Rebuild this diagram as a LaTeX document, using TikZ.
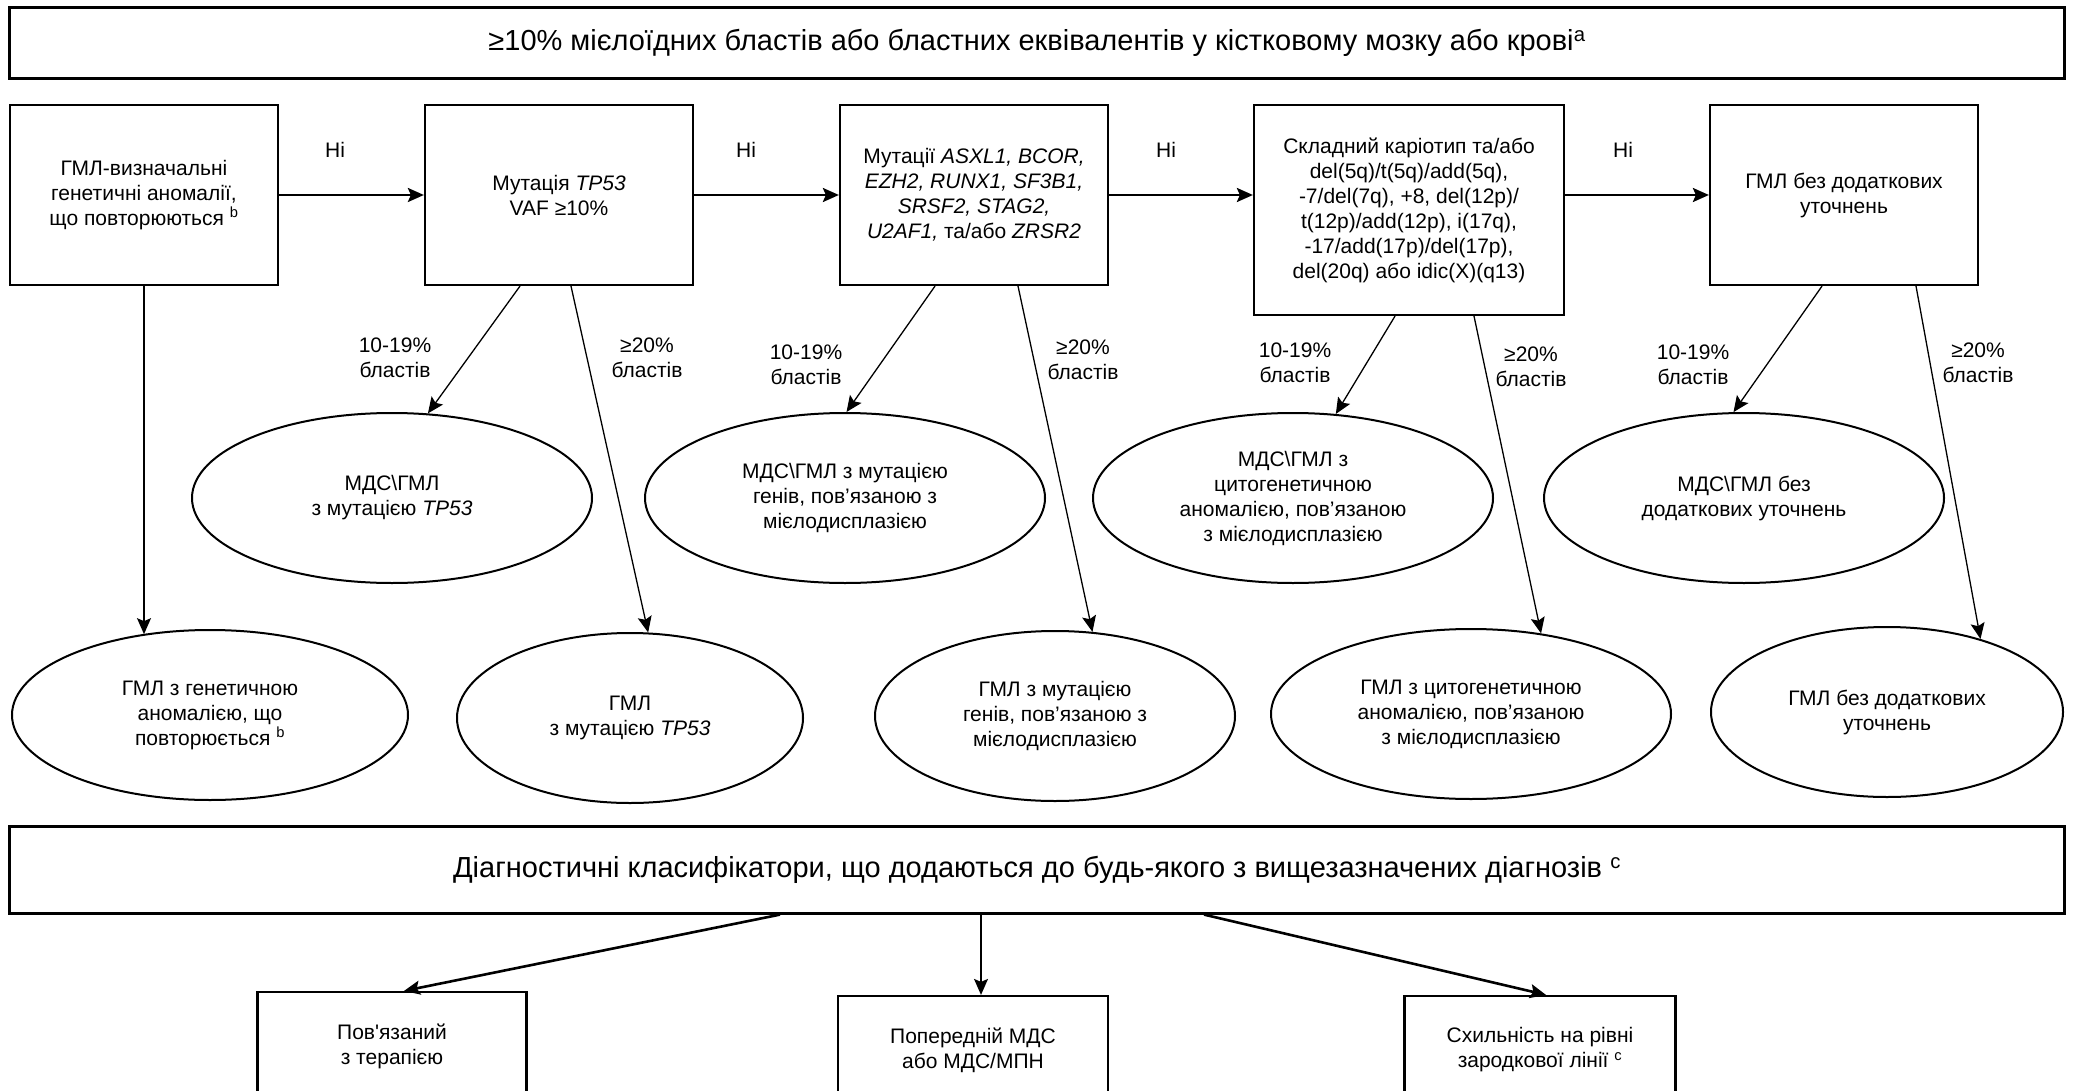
\documentclass[tikz,border=0pt]{standalone}
\usepackage{fontspec}
\setmainfont{Liberation Sans}
\usetikzlibrary{arrows.meta,shapes.geometric}

\begin{document}
\begin{tikzpicture}[x=1pt,y=-1pt,
  txt/.style={font=\fontsize{21}{25}\selectfont, align=center, inner sep=0pt},
  box/.style={txt, draw, line width=2.2pt, minimum width=268, minimum height=180},
  wide/.style={draw, line width=2.2pt, font=\fontsize{29}{34}\selectfont, inner sep=0pt, minimum width=2055},
  oval/.style={txt, draw, ellipse, line width=2pt, minimum height=170},
  arr/.style={-{Stealth[length=16pt,width=14pt,inset=3pt]}, line width=1.3pt},
  thickarr/.style={arr, line width=2.6pt}]
\useasboundingbox (0,0) rectangle (2076,1091);
\clip (0,0) rectangle (2076,1091);

\node[wide, minimum height=71] (crit) at (1037,43) {≥10\% мієлоїдних бластів або бластних еквівалентів у кістковому мозку або крові\textsuperscript{a}};

\node[box] (aml) at (144,195) {ГМЛ-визначальні\\генетичні аномалії,\\що повторюються \textsuperscript{b}};
\node[box] (tp) at (559,195) {Мутація \textit{TP53}\\VAF ≥10\%};
\node[box] (genes) at (974,195) {Мутації \textit{ASXL1, BCOR,}\\\textit{EZH2, RUNX1, SF3B1,}\\\textit{SRSF2, STAG2,}\\\textit{U2AF1,} та/або \textit{ZRSR2}};
\node[box, minimum width=310, minimum height=210] (cyto) at (1409,210) {Складний каріотип та/або\\del(5q)/t(5q)/add(5q),\\-7/del(7q), +8, del(12p)/\\t(12p)/add(12p), i(17q),\\-17/add(17p)/del(17p),\\del(20q) або idic(X)(q13)};
\node[box] (nos) at (1844,195) {ГМЛ без додаткових\\уточнень};

\draw[thickarr] (aml) -- (tp);
\draw[thickarr] (tp) -- (genes);
\draw[thickarr] (genes.east) -- (genes.east -| cyto.west);
\draw[thickarr] (cyto.east |- nos.west) -- (nos.west);

\node[txt] (no1) at (335,150) {Ні};
\node[txt] (no2) at (746,150) {Ні};
\node[txt] (no3) at (1166,150) {Ні};
\node[txt] (no4) at (1623,150) {Ні};

\node[oval, minimum width=400] (mtp) at (392,498) {МДС\textbackslash ГМЛ\\з мутацією \textit{TP53}};
\node[oval, minimum width=400] (mgen) at (845,498) {МДС\textbackslash ГМЛ з мутацією\\генів, пов’язаною з\\мієлодисплазією};
\node[oval, minimum width=400] (mcyto) at (1293,498) {МДС\textbackslash ГМЛ з\\цитогенетичною\\аномалією, пов’язаною\\з мієлодисплазією};
\node[oval, minimum width=400] (mnos) at (1744,498) {МДС\textbackslash ГМЛ без\\додаткових уточнень};

\node[oval, minimum width=396] (aaml) at (210,715) {ГМЛ з генетичною\\аномалією, що\\повторюється \textsuperscript{b}};
\node[oval, minimum width=346] (atp) at (630,718) {ГМЛ\\з мутацією \textit{TP53}};
\node[oval, minimum width=360] (agen) at (1055,716) {ГМЛ з мутацією\\генів, пов’язаною з\\мієлодисплазією};
\node[oval, minimum width=400] (acyto) at (1471,714) {ГМЛ з цитогенетичною\\аномалією, пов’язаною\\з мієлодисплазією};
\node[oval, minimum width=352] (anos) at (1887,712) {ГМЛ без додаткових\\уточнень};

\draw[arr] (aml.south) -- (aml.south |- aaml.130);
\draw[arr] ([xshift=-39]tp.south) -- (mtp.67);
\draw[arr] ([xshift=12]tp.south) -- (atp.78);
\draw[arr] ([xshift=-39]genes.south) -- (mgen.89);
\draw[arr] ([xshift=44]genes.south) -- (agen.66);
\draw[arr] ([xshift=-14]cyto.south) -- (mcyto.63);
\draw[arr] ([xshift=65]cyto.south) -- (acyto.49);
\draw[arr] ([xshift=-22]nos.south) -- (mnos.97);
\draw[arr] ([xshift=72]nos.south) -- (anos.38);

\node[txt] (low1) at (395,358) {10-19\%\\бластів};
\node[txt] (high1) at (647,358) {≥20\%\\бластів};
\node[txt] (low2) at (806,365) {10-19\%\\бластів};
\node[txt] (high2) at (1083,360) {≥20\%\\бластів};
\node[txt] (low3) at (1295,363) {10-19\%\\бластів};
\node[txt] (high3) at (1531,367) {≥20\%\\бластів};
\node[txt] (low4) at (1693,365) {10-19\%\\бластів};
\node[txt] (high4) at (1978,363) {≥20\%\\бластів};

\node[wide, minimum height=87] (extra) at (1037,870) {Діагностичні класифікатори, що додаються до будь-якого з вищезазначених діагнозів \textsuperscript{c}};

\node[box, minimum width=269, minimum height=108] (ther) at (392,1046) {Пов\textquotesingle язаний\\з терапією};
\node[box, minimum width=270, minimum height=108] (prior) at (973,1050) {Попередній МДС\\або МДС/МПН};
\node[box, minimum width=271, minimum height=108] (germ) at (1540,1050) {Схильність на рівні\\зародкової лінії \textsuperscript{c}};

\draw[thickarr] ([xshift=-257]extra.south) -- ([xshift=12]ther.north);
\draw[arr] ([xshift=-56]extra.south) -- ([xshift=-56]extra.south |- prior.north);
\draw[thickarr] ([xshift=167]extra.south) -- ([xshift=6]germ.north);

\end{tikzpicture}
\end{document}
